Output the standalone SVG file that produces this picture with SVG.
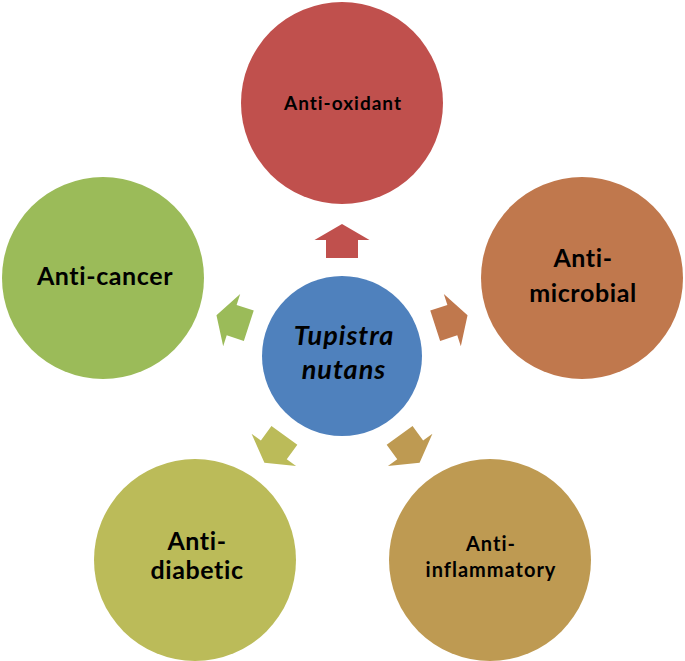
<svg xmlns="http://www.w3.org/2000/svg" width="685" height="661" viewBox="0 0 685 661">
<defs>
<style>
text{font-family:Lato,"Open Sans","Liberation Sans",sans-serif;font-weight:bold;fill:#000;text-anchor:middle;font-variant-ligatures:none}
.big{font-size:25px;letter-spacing:0.6px}
.med{font-size:20px;letter-spacing:1px}
.sm{font-size:19px;letter-spacing:1px}
.ctr{font-size:27px;font-style:italic;letter-spacing:1px}
</style>
<polygon id="arr" points="-16,-98 -16,-116 -27.5,-116 0,-132 27.5,-116 16,-116 16,-98"/>
</defs>
<rect width="685" height="661" fill="#fff"/>
<g id="connectors">
<use href="#arr" transform="translate(342,356)" fill="#C0504D"/>
<use href="#arr" transform="translate(342,356) rotate(72)" fill="#C0784D"/>
<use href="#arr" transform="translate(342,356) rotate(144)" fill="#BE9A52"/>
<use href="#arr" transform="translate(342,356) rotate(-144)" fill="#BBBB59"/>
<use href="#arr" transform="translate(342,356) rotate(-72)" fill="#9BBB59"/>
</g>
<g id="center">
<circle cx="342" cy="356" r="80" fill="#4F81BD"/>
<text class="ctr" x="344" y="345">Tupistra</text>
<text class="ctr" x="344" y="379">nutans</text>
</g>
<g id="antioxidant">
<circle cx="342" cy="103" r="101" fill="#C0504D"/>
<text class="sm" x="343" y="110">Anti-oxidant</text>
</g>
<g id="antimicrobial">
<circle cx="582" cy="278" r="101" fill="#C0784D"/>
<text class="big" x="583" y="267">Anti-</text>
<text class="big" x="583" y="302">microbial</text>
</g>
<g id="antiinflammatory">
<circle cx="490" cy="560" r="101" fill="#BE9A52"/>
<text class="med" x="491" y="551">Anti-</text>
<text class="med" x="491" y="577">inflammatory</text>
</g>
<g id="antidiabetic">
<circle cx="195" cy="560" r="101" fill="#BBBB59"/>
<text class="big" x="197" y="550">Anti-</text>
<text class="big" x="197" y="579">diabetic</text>
</g>
<g id="anticancer">
<circle cx="103" cy="278" r="101" fill="#9BBB59"/>
<text class="big" x="105" y="285">Anti-cancer</text>
</g>
</svg>
